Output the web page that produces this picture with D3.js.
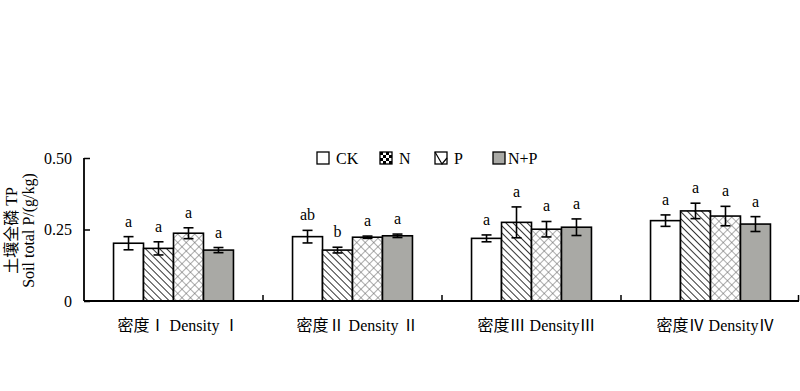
<!DOCTYPE html>
<html>
<head>
<meta charset="utf-8">
<script src="https://cdn.jsdelivr.net/npm/d3@7/dist/d3.min.js"></script>
<style>
  html, body { margin: 0; padding: 0; background: #fff; }
  svg { display: block; }
  text { font-family: "Liberation Serif", "Times New Roman", "Noto Sans CJK SC", serif; fill: #000; }
</style>
</head>
<body>
<div id="chart"></div>
<script>
const categories = ['密度Ⅰ Density Ⅰ', '密度Ⅱ Density Ⅱ', '密度Ⅲ DensityⅢ', '密度Ⅳ DensityⅣ'];
const series = ['CK', 'N', 'P', 'N+P'];
const means = {
  'CK':  [0.202, 0.225, 0.219, 0.281],
  'N':   [0.184, 0.178, 0.275, 0.315],
  'P':   [0.237, 0.223, 0.251, 0.297],
  'N+P': [0.178, 0.228, 0.258, 0.269]
};
const errors = {
  'CK':  [0.023, 0.022, 0.012, 0.020],
  'N':   [0.023, 0.010, 0.054, 0.027],
  'P':   [0.019, 0.004, 0.027, 0.034],
  'N+P': [0.009, 0.006, 0.029, 0.026]
};
const letters = {
  'CK':  ['a', 'ab', 'a', 'a'],
  'N':   ['a', 'b', 'a', 'a'],
  'P':   ['a', 'a', 'a', 'a'],
  'N+P': ['a', 'a', 'a', 'a']
};
const yTicks = [0, 0.25, 0.5];
const yTickLabels = ['0', '0.25', '0.50'];

const width = 800, height = 391;
const margin = {left: 84, right: 0, top: 158, bottom: 90};
const svg = d3.select('#chart').append('svg').attr('width', width).attr('height', height);

// patterns
const defs = svg.append('defs');
const diag = defs.append('pattern').attr('id', 'pat-n').attr('patternUnits', 'userSpaceOnUse')
  .attr('width', 5).attr('height', 5).attr('patternTransform', 'rotate(-45)');
diag.append('rect').attr('width', 5).attr('height', 5).attr('fill', '#fff');
diag.append('line').attr('x1', 0).attr('y1', 0).attr('x2', 0).attr('y2', 5)
  .attr('stroke', '#000').attr('stroke-width', 1.6);
const cross = defs.append('pattern').attr('id', 'pat-p').attr('patternUnits', 'userSpaceOnUse')
  .attr('width', 6).attr('height', 6).attr('patternTransform', 'rotate(45)');
cross.append('rect').attr('width', 6).attr('height', 6).attr('fill', '#fff');
cross.append('line').attr('x1', 0).attr('y1', 0).attr('x2', 0).attr('y2', 6).attr('stroke', '#666').attr('stroke-width', 1.1);
cross.append('line').attr('x1', 0).attr('y1', 0).attr('x2', 6).attr('y2', 0).attr('stroke', '#666').attr('stroke-width', 1.1);
const checker = defs.append('pattern').attr('id', 'pat-n-leg').attr('patternUnits', 'userSpaceOnUse')
  .attr('width', 6).attr('height', 6);
checker.append('rect').attr('width', 6).attr('height', 6).attr('fill', '#fff');
checker.append('rect').attr('width', 3).attr('height', 3).attr('fill', '#000');
checker.append('rect').attr('x', 3).attr('y', 3).attr('width', 3).attr('height', 3).attr('fill', '#000');

const fills = {'CK': '#fff', 'N': 'url(#pat-n)', 'P': 'url(#pat-p)', 'N+P': '#a9a9a5'};

const x0 = d3.scaleBand().domain(categories).range([margin.left, width - margin.right]);
const inset = x0.bandwidth() * 0.165;
const x1 = d3.scaleBand().domain(series).range([inset, x0.bandwidth() - inset]);
const y = d3.scaleLinear().domain([0, 0.5]).range([height - margin.bottom, margin.top]);

const rows = [];
categories.forEach((c, i) => series.forEach(s => rows.push({
  cat: c, s, v: means[s][i], e: errors[s][i], l: letters[s][i]
})));

const g = svg.append('g');
const bars = g.selectAll('g.bar').data(rows).join('g').attr('class', 'bar')
  .attr('transform', d => `translate(${x0(d.cat) + x1(d.s)},0)`);
bars.append('rect')
  .attr('x', 0).attr('width', x1.bandwidth())
  .attr('y', d => y(d.v)).attr('height', d => y(0) - y(d.v))
  .attr('fill', d => fills[d.s]).attr('stroke', '#000').attr('stroke-width', 1.6);

const cx = x1.bandwidth() / 2;
bars.append('line').attr('x1', cx).attr('x2', cx)
  .attr('y1', d => y(d.v - d.e)).attr('y2', d => y(d.v + d.e))
  .attr('stroke', '#000').attr('stroke-width', 1.6);
bars.selectAll('line.cap').data(d => [d.v - d.e, d.v + d.e]).join('line').attr('class', 'cap')
  .attr('x1', cx - 5).attr('x2', cx + 5).attr('y1', d => y(d)).attr('y2', d => y(d))
  .attr('stroke', '#000').attr('stroke-width', 1.6);
bars.append('text').attr('x', cx).attr('y', d => y(d.v + d.e) - 10)
  .attr('text-anchor', 'middle').attr('font-size', 16).text(d => d.l);

// axes
const yAxis = d3.axisLeft(y).tickValues(yTicks).tickFormat((d, i) => yTickLabels[i]).tickSize(-6).tickPadding(12);
const ya = svg.append('g').attr('transform', `translate(${margin.left},0)`).call(yAxis);
ya.select('.domain').attr('stroke-width', 1.8).attr('d', `M0,${y(0.5)}H0V${y(0)}`);
ya.selectAll('.tick line').attr('stroke-width', 1.5);
ya.selectAll('text').attr('font-size', 16).attr('font-family', '"Liberation Serif", serif');

const xa = svg.append('g').attr('transform', `translate(0,${y(0)})`);
xa.append('line').attr('x1', margin.left).attr('x2', width - 1).attr('stroke', '#000').attr('stroke-width', 1.8);
xa.selectAll('line.tk').data(categories.slice(1).concat(['end'])).join('line').attr('class', 'tk')
  .attr('x1', d => d === 'end' ? width - 1.5 : x0(d)).attr('x2', d => d === 'end' ? width - 1.5 : x0(d))
  .attr('y1', 0).attr('y2', -6).attr('stroke', '#000').attr('stroke-width', 1.5);
xa.selectAll('text').data(categories).join('text')
  .attr('x', d => x0(d) + x0.bandwidth() / 2 + 5).attr('y', 30)
  .attr('text-anchor', 'middle').attr('font-size', 16).text(d => d);

// y title
const yt = svg.append('text').attr('transform', `translate(17,${(y(0) + y(0.5)) / 2 + 1}) rotate(-90)`)
  .attr('text-anchor', 'middle').attr('font-size', 16);
yt.append('tspan').attr('x', 0).attr('dy', 0).text('土壤全磷 TP');
yt.append('tspan').attr('x', 0).attr('dy', 16.5).text('Soil total P/(g/kg)');

// legend
const legX = [317, 380, 435, 493];
const legFill = {'CK': '#fff', 'N': 'url(#pat-n-leg)', 'P': '#fff', 'N+P': '#a9a9a5'};
const leg = svg.append('g').selectAll('g').data(series).join('g')
  .attr('transform', (d, i) => `translate(${legX[i]},152)`);
leg.append('rect').attr('width', 12).attr('height', 12)
  .attr('fill', d => legFill[d]).attr('stroke', '#000').attr('stroke-width', 1.3);
leg.filter(d => d === 'P').append('path').attr('d', 'M0,0L7,12L12,6')
  .attr('fill', 'none').attr('stroke', '#000').attr('stroke-width', 1.2);
leg.append('text').attr('x', (d, i) => i === 3 ? 15 : 19).attr('y', 12)
  .attr('font-size', 16).text(d => d);
</script>
</body>
</html>
